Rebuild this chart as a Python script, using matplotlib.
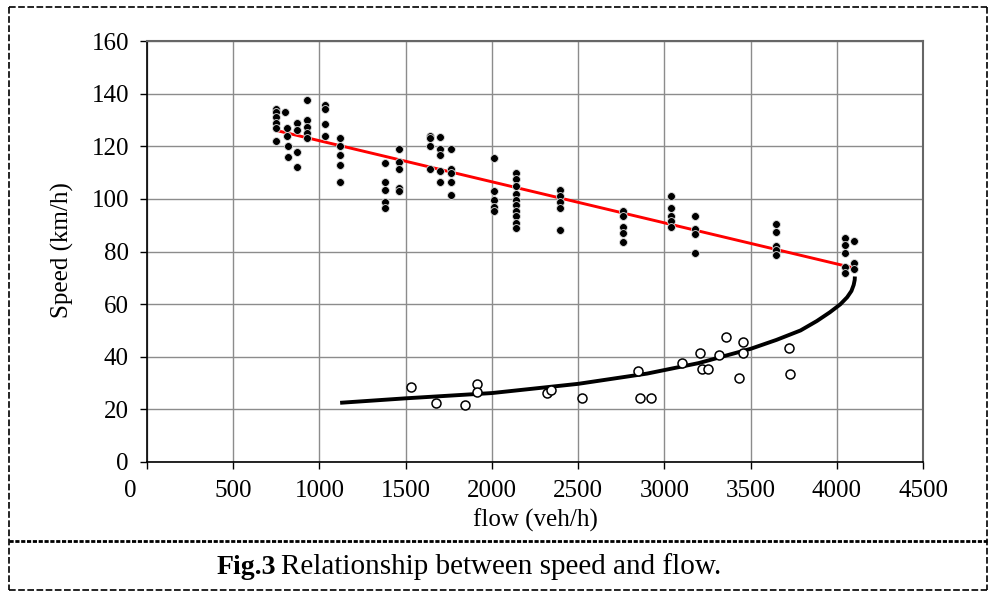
import matplotlib
matplotlib.use('Agg')
import matplotlib.pyplot as plt
from matplotlib.lines import Line2D
from matplotlib.transforms import ScaledTranslation

plt.rcParams['font.family'] = ['Liberation Serif', 'DejaVu Serif']

# === uncongested observations (filled dots) ===
free_flow = [750, 750, 750, 750, 750, 750,
             800, 810, 810, 820, 820,
             870, 870, 870, 870,
             930, 930, 930, 930, 930,
             1030, 1030, 1030, 1030,
             1120, 1120, 1120, 1120, 1120,
             1380, 1380, 1380, 1380, 1380,
             1460, 1460, 1460, 1460, 1460,
             1640, 1640, 1640, 1640,
             1700, 1700, 1700, 1700, 1700,
             1760, 1760, 1760, 1760, 1760,
             2015, 2015, 2015, 2015, 2015,
             2140, 2140, 2140, 2140, 2140, 2140, 2140, 2140, 2140, 2140,
             2395, 2395, 2395, 2395, 2395,
             2760, 2760, 2760, 2760, 2760,
             3040, 3040, 3040, 3040, 3040,
             3180, 3180, 3180, 3180,
             3650, 3650, 3650, 3650, 3650,
             4050, 4050, 4050, 4050, 4050,
             4100, 4100, 4100]
free_speed = [134, 133, 131, 129, 127, 122,
              133, 127, 124, 120, 116,
              129, 126, 118, 112,
              137.5, 130, 127.5, 125, 123,
              135.5, 134, 128.5, 124,
              123, 120, 116.5, 113, 106.5,
              113.5, 106.5, 103.5, 99, 96.5,
              119, 114, 111.5, 104, 103,
              124, 123, 120, 111.5,
              123.5, 119, 116.5, 110.5, 106.5,
              119, 111.5, 110, 106.5, 101.5,
              115.5, 103, 99.5, 97, 95.5,
              110, 107.5, 105, 102, 99.5, 97.5, 95.5, 93.5, 91, 89,
              103.5, 101, 99, 96.5, 88,
              95.5, 93.5, 89.5, 87, 83.5,
              101, 96.5, 93.5, 91.5, 89.5,
              93.5, 88.5, 86.5, 79.5,
              90.5, 87.5, 82, 80.5, 78.5,
              85, 82.5, 79.5, 74, 72,
              84, 75.5, 73.5]

# === congested observations (open circles) ===
cong_flow = [1530, 1675, 1845, 1915, 1915, 2320, 2340, 2520, 2850, 2860,
             2920, 3100, 3205, 3220, 3255, 3315, 3355, 3435, 3455, 3455,
             3725, 3730]
cong_speed = [28.5, 22.5, 21.5, 29.8, 26.5, 26.3, 27.5, 24.5, 34.5, 24.5,
              24.5, 37.5, 41.5, 35.5, 35.5, 40.5, 47.5, 31.8, 45.5, 41.5,
              43.5, 33.5]

# === fitted relations ===
fit_flow = [750, 4095]
fit_speed = [126.0, 73.8]

cong_fit_flow = [1120, 1500, 2000, 2500, 2900, 3200, 3500, 3650, 3790, 3885,
                 3960, 4020, 4060, 4085, 4098, 4104, 4105]
cong_fit_speed = [22.5, 24.2, 26.2, 29.7, 33.6, 37.6, 43.0, 46.4, 50.0, 53.6,
                  56.9, 59.9, 62.6, 65.0, 67.3, 69.2, 70.5]

# === PLOT ===
fig = plt.figure(figsize=(9.9, 5.92), dpi=100)
ax = fig.add_axes([147 / 990, 1 - 462 / 592, (923 - 147) / 990, (462 - 41) / 592])

ax.plot(cong_fit_flow, cong_fit_speed, color='black', lw=2.8, zorder=3,
        solid_joinstyle='round', solid_capstyle='butt')
ax.plot(fit_flow, fit_speed, color='red', lw=2.1, zorder=4)
ax.scatter(free_flow, free_speed, s=32, color='black', edgecolors='#dddddd',
           linewidths=0.6, zorder=5)
ax.scatter(cong_flow, cong_speed, s=42, facecolors='white', edgecolors='black',
           linewidths=1.1, zorder=5)

ax.set_xlim(0, 4500)
ax.set_ylim(0, 160)
ax.set_xticks(range(0, 4501, 500))
ax.set_yticks(range(0, 161, 20))
ax.grid(True, color='#8c8c8c', lw=1.0)
ax.set_axisbelow(True)
ax.tick_params(direction='out', length=5, width=1, labelsize=18, pad=8)
for side in ['left', 'bottom']:
    ax.spines[side].set_color('black')
    ax.spines[side].set_linewidth(1.2)
for side in ['top', 'right']:
    ax.spines[side].set_color('#666666')
    ax.spines[side].set_linewidth(1.5)

# Excel places the x "0" label under the y labels
lbl0 = ax.get_xticklabels()[0]
lbl0.set_transform(lbl0.get_transform() + ScaledTranslation(-0.17, 0, fig.dpi_scale_trans))

fig.text(62 / 990, 1 - 250 / 592, 'Speed (km/h)', rotation=90, ha='center',
         va='center', fontsize=18)
fig.text(535 / 990, 1 - 520 / 592, 'flow (veh/h)', ha='center', va='center',
         fontsize=18)

# caption
fig.text(276 / 990, 1 - 567 / 592, 'Fig.3', ha='right', va='center',
         fontsize=20, fontweight='bold')
fig.text(281 / 990, 1 - 567 / 592, 'Relationship between speed and flow.',
         ha='left', va='center', fontsize=21)

# frame
W, H = 990, 592
def fx(px):
    return px / W
def fy(py):
    return 1 - py / H
frame = dict(color='black', lw=1.2, linestyle=(0, (4, 1.5)))
fig.add_artist(Line2D([fx(9), fx(987)], [fy(7), fy(7)], **frame))
fig.add_artist(Line2D([fx(9), fx(987)], [fy(590), fy(590)], **frame))
fig.add_artist(Line2D([fx(9), fx(9)], [fy(7), fy(590)], **frame))
fig.add_artist(Line2D([fx(987), fx(987)], [fy(7), fy(590)], **frame))
fig.add_artist(Line2D([fx(9), fx(987)], [fy(541), fy(541)], color='black',
                      lw=2.0, linestyle=(0, (1.5, 0.6))))

fig.savefig('out.png', dpi=100)
